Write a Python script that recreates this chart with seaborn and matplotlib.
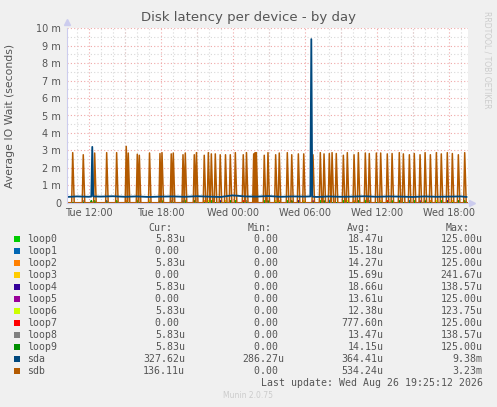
import numpy as np
import pandas as pd
import matplotlib
matplotlib.use('Agg')
import matplotlib.pyplot as plt
import seaborn as sns

# values in milliseconds, time in hours since Tue 00:00
sdb_peak_hours = [10.67, 11.55, 12.50, 13.50, 14.33, 15.13, 15.30, 16.05, 16.22, 17.07,
                  17.94, 18.11, 18.88, 19.05, 19.86, 20.05, 20.80, 20.98, 21.63, 21.97,
                  22.22, 22.55, 22.96, 23.40, 23.80, 24.22, 24.88, 25.15, 25.75, 25.86,
                  25.97, 26.63, 26.94, 27.58, 27.88, 28.55, 28.92, 29.47, 29.92, 30.69,
                  31.30, 31.61, 32.05, 32.28, 32.63, 33.22, 33.55, 34.11, 34.47, 35.05,
                  35.38, 35.97, 36.33, 36.88, 37.28, 37.88, 38.22, 38.72, 39.13, 39.61,
                  40.03, 40.47, 40.97, 41.38, 41.88, 42.30, 42.80, 43.33]
sdb_peak_vals = [2.87, 2.75, 2.85, 2.87, 2.87, 3.23, 2.85, 2.78, 2.72, 2.85,
                 2.82, 2.87, 2.80, 2.85, 2.75, 2.85, 2.75, 2.87, 2.72, 2.87,
                 2.80, 2.80, 2.75, 2.75, 2.75, 2.87, 2.75, 2.87, 2.80, 2.87,
                 2.87, 2.72, 2.87, 2.75, 2.85, 2.87, 2.75, 2.80, 2.80, 2.75,
                 2.87, 2.80, 2.82, 2.87, 2.82, 2.72, 2.87, 2.75, 2.87, 2.85,
                 2.82, 2.85, 2.85, 2.80, 2.82, 2.87, 2.80, 2.75, 2.82, 2.75,
                 2.87, 2.75, 2.87, 2.80, 2.87, 2.82, 2.75, 2.87]

sda_hours = [10.2, 11.0, 12.0, 12.22, 12.30, 12.38, 13.0, 14.0, 15.0, 16.0, 17.0, 18.0,
             19.0, 20.0, 21.0, 22.0, 23.0, 24.0, 25.0, 26.0, 27.0, 28.0, 29.0, 30.0,
             30.47, 30.55, 30.63, 31.0, 32.0, 33.0, 34.0, 35.0, 36.0, 37.0, 38.0, 39.0,
             40.0, 41.0, 42.0, 43.0, 43.5]
sda_vals = [0.33, 0.36, 0.34, 0.35, 3.20, 0.36, 0.35, 0.37, 0.34, 0.36, 0.33, 0.35,
            0.36, 0.34, 0.37, 0.35, 0.33, 0.42, 0.36, 0.35, 0.38, 0.34, 0.36, 0.35,
            0.36, 9.38, 0.35, 0.33, 0.36, 0.34, 0.35, 0.37, 0.34, 0.36, 0.35, 0.33,
            0.36, 0.34, 0.35, 0.36, 0.33]

loop_names = ['loop0', 'loop1', 'loop2', 'loop3', 'loop4', 'loop5',
              'loop6', 'loop7', 'loop8', 'loop9']
loop_blips = {
    'loop0': [12.5, 14.33, 16.05, 18.11, 20.05, 22.22, 24.22, 26.63, 28.55, 31.30, 33.22, 35.05, 37.28, 39.13, 41.38, 43.33],
    'loop1': [13.50, 19.86, 25.75, 32.05, 38.72],
    'loop2': [15.13, 21.63, 27.88, 34.11, 40.47],
    'loop3': [17.07, 23.40, 29.92, 36.33, 42.30],
    'loop4': [22.96, 29.47, 41.88],
    'loop5': [30.69, 39.61],
    'loop6': [21.97, 27.58, 33.55, 40.97],
    'loop7': [24.88, 36.88],
    'loop8': [11.55, 18.88, 25.15, 35.38],
    'loop9': [12.22, 17.94, 20.80, 23.80, 26.94, 28.92, 31.61, 34.47, 37.88, 40.03, 42.80],
}
loop_blip_val = 0.12

colors = {'loop0': '#00cc00', 'loop1': '#0066b3', 'loop2': '#ff8000', 'loop3': '#ffcc00',
          'loop4': '#330099', 'loop5': '#990099', 'loop6': '#ccff00', 'loop7': '#ff0000',
          'loop8': '#808080', 'loop9': '#008f00', 'sda': '#00487d', 'sdb': '#b35a00'}

legend_rows = [
    ('loop0', '5.83u', '0.00', '18.47u', '125.00u'),
    ('loop1', '0.00', '0.00', '15.18u', '125.00u'),
    ('loop2', '5.83u', '0.00', '14.27u', '125.00u'),
    ('loop3', '0.00', '0.00', '15.69u', '241.67u'),
    ('loop4', '5.83u', '0.00', '18.66u', '138.57u'),
    ('loop5', '0.00', '0.00', '13.61u', '125.00u'),
    ('loop6', '5.83u', '0.00', '12.38u', '123.75u'),
    ('loop7', '0.00', '0.00', '777.60n', '125.00u'),
    ('loop8', '5.83u', '0.00', '13.47u', '138.57u'),
    ('loop9', '5.83u', '0.00', '14.15u', '125.00u'),
    ('sda', '327.62u', '286.27u', '364.41u', '9.38m'),
    ('sdb', '136.11u', '0.00', '534.24u', '3.23m'),
]

x_ticks = [12, 18, 24, 30, 36, 42]
x_labels = ['Tue 12:00', 'Tue 18:00', 'Wed 00:00', 'Wed 06:00', 'Wed 12:00', 'Wed 18:00']
y_ticks = list(range(0, 11))
y_labels = ['0'] + [f'{v} m' for v in range(1, 11)]

x_start, x_end = 10.17, 43.58
step = 1 / 12  # 5 minute samples

# build long table
rows = []
for name in loop_names:
    rows.append((name, x_start, 0.0))
    for h in loop_blips[name]:
        rows += [(name, h - step, 0.0), (name, h, loop_blip_val), (name, h + step, 0.0)]
    rows.append((name, x_end, 0.0))
for h, v in zip(sda_hours, sda_vals):
    rows.append(('sda', h, v))
rows.append(('sdb', x_start, 0.0))
for h, v in zip(sdb_peak_hours, sdb_peak_vals):
    rows += [('sdb', h - step, 0.0), ('sdb', h, v), ('sdb', h + step * 1.5, 0.0)]
rows.append(('sdb', x_end, 0.0))
df = pd.DataFrame(rows, columns=['device', 'hour', 'ms'])

sns.set_style('white')
plt.rcParams['font.family'] = ['DejaVu Sans']

W, H = 497, 407
fig = plt.figure(figsize=(W / 100, H / 100), dpi=100, facecolor='#f0f0f0')
ax = fig.add_axes([66.7 / W, 1 - 202.7 / H, 401 / W, 174.4 / H])
ax.set_facecolor('white')

widths = {'sda': 1.3, 'sdb': 1.1}
for name in loop_names + ['sdb', 'sda']:
    sub = df[df['device'] == name]
    sns.lineplot(data=sub, x='hour', y='ms', ax=ax, color=colors[name], lw=widths.get(name, 1.0),
                 estimator=None, sort=False, legend=False)

ax.set_xlim(x_start, x_end)
ax.set_ylim(0, 10)
ax.set_xticks(x_ticks)
ax.set_xticklabels(x_labels)
ax.set_yticks(y_ticks)
ax.set_yticklabels(y_labels)
ax.set_xticks(np.arange(11, 44, 1), minor=True)
ax.set_yticks(np.arange(0.5, 10, 1), minor=True)
ax.grid(which='minor', color='#d8d8d8', linestyle=(0, (1, 2)), lw=0.8)
ax.grid(which='major', color='#f0a8a8', linestyle=(0, (1, 2)), lw=0.8)
# major vertical lines every 3 hours
for h in range(12, 44, 3):
    ax.axvline(h, color='#f0a8a8', linestyle=(0, (1, 2)), lw=0.8, zorder=0.5)
ax.xaxis.grid(False, which='major')
ax.set_axisbelow(True)
ax.tick_params(axis='both', labelsize=7, colors='#555555', length=2, width=0.6, pad=2)
ax.tick_params(which='minor', length=0)
ax.set_xlabel('')
ax.set_ylabel('Average IO Wait (seconds)', fontsize=7.8, color='#555555')
ax.yaxis.set_label_coords((15.5 - 66.7) / 401, 0.5)
for s in ['top', 'right']:
    ax.spines[s].set_visible(False)
ax.spines['left'].set_color('#ccccee')
ax.spines['bottom'].set_color('#ccccee')
ax.plot([0], [1.035], marker='^', color='#ccccee', ms=4, transform=ax.transAxes, clip_on=False)
ax.plot([1.01], [0], marker='>', color='#ccccee', ms=4, transform=ax.transAxes, clip_on=False)

fig.text(0.5, 1 - 18 / H, 'Disk latency per device - by day', ha='center', va='center',
         fontsize=9.5, color='#555555')
fig.text(487 / W, 1 - 60 / H, 'RRDTOOL / TOBI OETIKER', rotation=270, ha='center', va='center',
         fontsize=5.5, color='#cccccc')

# legend table
mono = 'DejaVu Sans Mono'
fs = 7.1
def px(y):
    return 1 - y / H

fig.text(172.7 / W, px(227.7), 'Cur:', ha='right', va='center', family=mono, fontsize=fs, color='#555555')
fig.text(272 / W, px(227.7), 'Min:', ha='right', va='center', family=mono, fontsize=fs, color='#555555')
fig.text(371 / W, px(227.7), 'Avg:', ha='right', va='center', family=mono, fontsize=fs, color='#555555')
fig.text(470 / W, px(227.7), 'Max:', ha='right', va='center', family=mono, fontsize=fs, color='#555555')

def cell(s):
    return s if s[-1].isalpha() else s + ' '

for i, (name, cur, mn, avg, mx) in enumerate(legend_rows):
    y = px(239.3 + 12 * i)
    fig.patches.append(plt.Rectangle((14 / W, y - 3 / H), 6 / W, 6 / H, transform=fig.transFigure,
                                     facecolor=colors[name], edgecolor='none'))
    fig.text(26.7 / W, y, name, ha='left', va='center', family=mono, fontsize=fs, color='#555555')
    for xe, val in zip([185, 284, 383.3, 482.7], [cur, mn, avg, mx]):
        fig.text(xe / W, y, cell(val), ha='right', va='center', family=mono, fontsize=fs, color='#555555')

fig.text(482.7 / W, px(383.3), 'Last update: Wed Aug 26 19:25:12 2026', ha='right', va='center',
         family=mono, fontsize=fs, color='#555555')
fig.text(248 / W, px(396), 'Munin 2.0.75', ha='center', va='center', fontsize=5.5, color='#cccccc')

fig.savefig('out.png', dpi=100, facecolor=fig.get_facecolor())
